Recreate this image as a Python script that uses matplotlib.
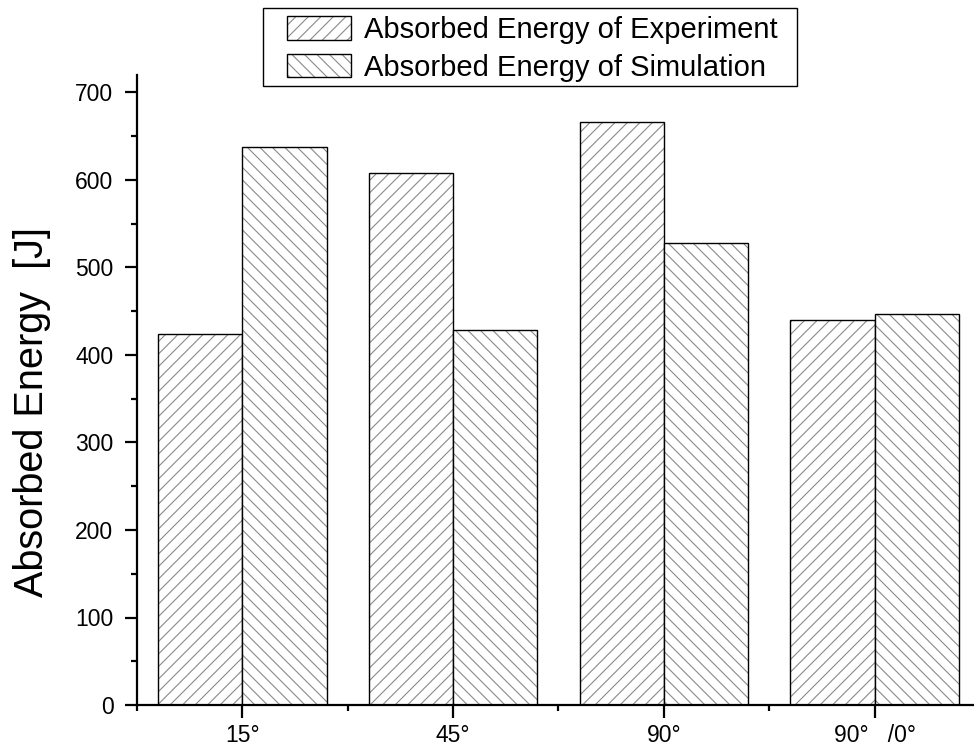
import matplotlib
matplotlib.use("Agg")
import matplotlib.pyplot as plt
from matplotlib.backend_bases import GraphicsContextBase
from matplotlib.colors import to_rgba
from matplotlib.patches import Rectangle
from matplotlib.ticker import MultipleLocator, FixedLocator
import numpy as np

plt.rcParams['font.family'] = ['Liberation Sans', 'DejaVu Sans']
plt.rcParams['hatch.linewidth'] = 0.8

# finer hatch spacing than the default 6 lines per inch per stroke
_base_hatch_path = GraphicsContextBase.get_hatch_path


def _dense_hatch_path(self, density=16.0):
    return _base_hatch_path(self, density=density)


GraphicsContextBase.get_hatch_path = _dense_hatch_path

categories = ['15°', '45°', '90°', '90°   /0°']
experiment = [424, 608, 666, 440]
simulation = [638, 429, 528, 447]

HATCH_GREY = to_rgba('#8a8a8a')

W, H = 974, 747
fig = plt.figure(figsize=(W / 100, H / 100), dpi=100)
left_px, right_px, bottom_px, top_px = 137, 980, 705, 75
ax = fig.add_axes([left_px / W, 1 - bottom_px / H,
                   (right_px - left_px) / W, (bottom_px - top_px) / H])

x = np.arange(1, len(categories) + 1)
bw = 0.4
exp_bars = ax.bar(x - bw / 2, experiment, bw, facecolor='white',
                  edgecolor='black', linewidth=1.0, hatch='/',
                  label='Absorbed Energy of Experiment')
sim_bars = ax.bar(x + bw / 2, simulation, bw, facecolor='white',
                  edgecolor='black', linewidth=1.0, hatch='\\',
                  label='Absorbed Energy of Simulation')
# grey hatch lines inside black bar outlines
for p in list(exp_bars) + list(sim_bars):
    p._hatch_color = HATCH_GREY

ax.set_xlim(0.5, 4.5)
ax.set_ylim(0, 720)
ax.spines['top'].set_visible(False)
ax.spines['right'].set_visible(False)
for s in ('left', 'bottom'):
    ax.spines[s].set_linewidth(1.6)

ax.set_xticks(x)
ax.set_xticklabels(categories)
ax.xaxis.set_minor_locator(FixedLocator([0.5, 1.5, 2.5, 3.5, 4.5]))
ax.yaxis.set_major_locator(MultipleLocator(100))
ax.yaxis.set_minor_locator(MultipleLocator(50))

ax.tick_params(axis='both', which='major', direction='out', length=9,
               width=1.6, labelsize=16.5)
ax.tick_params(axis='both', which='minor', direction='out', length=4.5,
               width=1.6)
ax.tick_params(axis='y', which='major', pad=8)
ax.tick_params(axis='x', which='major', pad=5)

ax.set_ylabel('Absorbed Energy  [J]', fontsize=28.5)
ax.yaxis.set_label_coords(-0.102, 0.465)

# legend entries without a frame, boxed by a separate rectangle
leg = fig.legend(loc='upper left', bbox_to_anchor=(287 / W, 1 - 16 / H),
                 fontsize=21, frameon=False, handlelength=2.2,
                 handleheight=0.85, handletextpad=0.45, labelspacing=0.33,
                 borderpad=0, borderaxespad=0)
for h in leg.legend_handles:
    h._hatch_color = HATCH_GREY
fig.add_artist(Rectangle((263 / W, 1 - 86 / H), (797 - 263) / W, 78 / H,
                         transform=fig.transFigure, facecolor='none',
                         edgecolor='black', linewidth=1.0))

fig.savefig('out.png', dpi=100)
